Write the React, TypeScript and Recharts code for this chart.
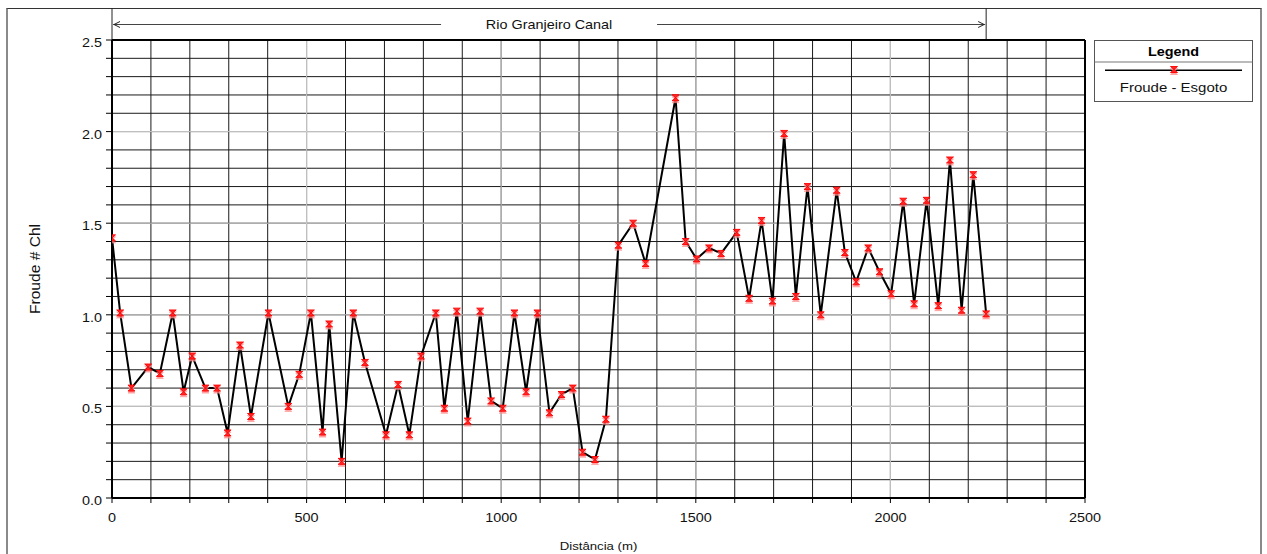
import React from 'react';
import {
  LineChart,
  Line,
  XAxis,
  YAxis,
  CartesianGrid,
  ReferenceLine,
  ReferenceArea,
  Legend,
  Label,
} from 'recharts';

// Station distance along the reach (m)
const distance = [
  0, 21, 50, 93, 123, 156, 184, 206, 240, 270,
  297, 329, 357, 402, 453, 481, 511, 541, 558, 590,
  620, 650, 704, 735, 764, 794, 832, 854, 886, 914,
  946, 974, 1004, 1034, 1064, 1093, 1124, 1155, 1184, 1209,
  1241, 1269, 1301, 1339, 1371, 1448, 1474, 1502, 1534, 1565,
  1605, 1637, 1669, 1697, 1727, 1757, 1787, 1821, 1862, 1883,
  1912, 1943, 1972, 2002, 2033, 2061, 2093, 2123, 2153, 2183,
  2213, 2246,
];

// Froude number in the main channel, "Esgoto" profile
const froudeEsgoto = [
  1.42, 1.01, 0.6, 0.715, 0.68, 1.01, 0.58, 0.775, 0.6, 0.6,
  0.355, 0.835, 0.445, 1.01, 0.5, 0.675, 1.01, 0.36, 0.95, 0.2,
  1.01, 0.74, 0.345, 0.62, 0.345, 0.775, 1.01, 0.49, 1.02, 0.42,
  1.02, 0.53, 0.49, 1.01, 0.58, 1.01, 0.465, 0.565, 0.6, 0.25,
  0.21, 0.43, 1.38, 1.5, 1.28, 2.185, 1.4, 1.305, 1.365, 1.335,
  1.45, 1.09, 1.515, 1.075, 1.99, 1.1, 1.7, 1.0, 1.68, 1.34,
  1.18, 1.365, 1.235, 1.115, 1.62, 1.06, 1.625, 1.05, 1.845, 1.025,
  1.765, 1.005,
];

// Axis ticks (every tick gets a grid line, only some get a label)
const xTicks = [
  0, 100, 200, 300, 400, 500, 600, 700, 800, 900, 1000, 1100, 1200,
  1300, 1400, 1500, 1600, 1700, 1800, 1900, 2000, 2100, 2200, 2300, 2400, 2500,
];
const yTicks = [
  0, 0.1, 0.2, 0.3, 0.4, 0.5, 0.6, 0.7, 0.8, 0.9, 1, 1.1, 1.2,
  1.3, 1.4, 1.5, 1.6, 1.7, 1.8, 1.9, 2, 2.1, 2.2, 2.3, 2.4, 2.5,
];
const xTickLabels = [0, 500, 1000, 1500, 2000, 2500];
const yTickLabels = [0, 0.5, 1, 1.5, 2, 2.5];

const reachName = 'Rio Granjeiro Canal';
const seriesName = 'Froude - Esgoto';
const legendTitle = 'Legend';
const xTitle = 'Distância (m)';
const yTitle = 'Froude # Chl';

const chartData = distance.map((d, i) => ({ dist: d, froude: froudeEsgoto[i] }));
const reachStart = distance[0];
const reachEnd = distance[distance.length - 1];

const FONT = "'Liberation Sans', Arial, Helvetica, sans-serif";
const STRETCH = 1.2;

type WideTextProps = {
  x: number;
  y: number;
  anchor?: 'start' | 'middle' | 'end';
  size?: number;
  weight?: string;
  fill?: string;
  children: React.ReactNode;
};

// Text drawn slightly wide, like the HEC-RAS plot output
function WideText({ x, y, anchor = 'middle', size = 12, weight = 'normal', fill = '#111', children }: WideTextProps) {
  return (
    <text
      transform={`translate(${x},${y}) scale(${STRETCH},1)`}
      textAnchor={anchor}
      fontSize={size}
      fontWeight={weight}
      fontFamily={FONT}
      fill={fill}
    >
      {children}
    </text>
  );
}

// Red hourglass marker with its faint pink shadow
function HourglassMark({ cx, cy }: { cx?: number; cy?: number }) {
  if (cx == null || cy == null || isNaN(cx) || isNaN(cy)) return null;
  const w = 3.5;
  const h = 3;
  const shape = (oy: number) =>
    `M${cx - w},${cy + oy - h} H${cx + w} L${cx - w},${cy + oy + h} H${cx + w} Z`;
  return (
    <g>
      <path d={shape(2)} fill="#ff8a8a" stroke="#ff8a8a" strokeWidth={0.8} opacity={0.8} />
      <path d={shape(0)} fill="#ff2a2a" stroke="#ff0000" strokeWidth={0.9} />
    </g>
  );
}

function YTick(props: any) {
  const { x, y, payload } = props;
  if (!yTickLabels.includes(payload.value)) return <g />;
  return (
    <WideText x={x} y={y + 7} anchor="end">
      {Number(payload.value).toFixed(1)}
    </WideText>
  );
}

function XTick(props: any) {
  const { x, y, payload } = props;
  if (!xTickLabels.includes(payload.value)) return <g />;
  return (
    <WideText x={x} y={y + 16.5} anchor="middle">
      {payload.value}
    </WideText>
  );
}

function XTitle(props: any) {
  const vb = props.viewBox || { x: 112, y: 498, width: 973 };
  return (
    <WideText x={vb.x + vb.width / 2} y={vb.y + 51.5} size={11}>
      {xTitle}
    </WideText>
  );
}

function YTitle(props: any) {
  const vb = props.viewBox || { x: 0, y: 40, height: 458 };
  const cx = vb.x + 35;
  const cy = vb.y + vb.height / 2;
  return (
    <text
      transform={`translate(${cx},${cy}) rotate(-90) scale(1.3,${STRETCH})`}
      textAnchor="middle"
      dy={4}
      fontSize={12}
      fontFamily={FONT}
      fill="#111"
    >
      {yTitle}
    </text>
  );
}

// Reach banner above the plot: arrows spanning the river reach with its name
function ReachBand(props: any) {
  const { x, y, width } = props;
  const left = x;
  const right = x + width;
  const top = y - 32;
  const ay = y - 15.5;
  const mid = (left + right) / 2;
  const gap = 108;
  return (
    <g>
      <line x1={left} x2={left} y1={top} y2={y} stroke="#222" strokeWidth={1} />
      <line x1={right} x2={right} y1={top} y2={y} stroke="#222" strokeWidth={1} />
      <line x1={left + 1} x2={mid - gap} y1={ay} y2={ay} stroke="#444" strokeWidth={1} />
      <line x1={mid + gap} x2={right - 1} y1={ay} y2={ay} stroke="#444" strokeWidth={1} />
      <polyline
        points={`${left + 8},${ay - 3} ${left + 2},${ay} ${left + 8},${ay + 3}`}
        fill="none"
        stroke="#222"
        strokeWidth={1}
      />
      <polyline
        points={`${right - 8},${ay - 3} ${right - 2},${ay} ${right - 8},${ay + 3}`}
        fill="none"
        stroke="#222"
        strokeWidth={1}
      />
      <WideText x={mid} y={ay + 4.5}>
        {reachName}
      </WideText>
    </g>
  );
}

function LegendBox() {
  return (
    <svg width={160} height={63} style={{ display: 'block' }}>
      <rect x={0.5} y={0.5} width={158} height={61} fill="#fff" stroke="#555" strokeWidth={1} />
      <WideText x={79.5} y={15.5} size={12} weight="bold" fill="#000">
        {legendTitle}
      </WideText>
      <line x1={0.5} x2={158.5} y1={22} y2={22} stroke="#777" strokeWidth={1} />
      <line x1={11} x2={148} y1={30.3} y2={30.3} stroke="#000" strokeWidth={1.5} />
      <HourglassMark cx={80} cy={29.5} />
      <WideText x={79.5} y={51.7} size={12.5}>
        {seriesName}
      </WideText>
    </svg>
  );
}

export default function App() {
  return (
    <div
      style={{
        position: 'absolute',
        left: 0,
        top: 0,
        width: 1267,
        height: 554,
        overflow: 'hidden',
        background: '#fff',
      }}
    >
      <div
        style={{
          position: 'absolute',
          left: 6,
          top: 8,
          width: 1256,
          height: 546,
          boxSizing: 'border-box',
          borderLeft: '2px solid #8a8a8a',
          borderRight: '2px solid #8a8a8a',
          borderTop: '1px solid #333',
        }}
      />
      <div style={{ position: 'absolute', left: 0, top: 0 }}>
        <LineChart
          width={1267}
          height={554}
          data={chartData}
          margin={{ top: 40, right: 182, bottom: 0, left: 0 }}
        >
          <CartesianGrid stroke="#1a1a1a" strokeWidth={1} />
          {[500, 1000, 1500, 2000].map((v) => (
            <ReferenceLine key={`vx${v}`} x={v} stroke="#cfcfcf" strokeWidth={1} />
          ))}
          {[0.5, 1, 1.5, 2].map((v) => (
            <ReferenceLine key={`hy${v}`} y={v} stroke="#cfcfcf" strokeWidth={1} />
          ))}
          <ReferenceLine y={2.5} stroke="#000" strokeWidth={2} />
          <ReferenceLine x={2500} stroke="#000" strokeWidth={2} />
          <ReferenceArea
            x1={reachStart}
            x2={reachEnd}
            ifOverflow="visible"
            fill="none"
            shape={(p: any) => <ReachBand {...p} />}
          />
          <XAxis
            dataKey="dist"
            type="number"
            domain={[0, 2500]}
            ticks={xTicks}
            interval={0}
            height={56}
            tickSize={5}
            tickMargin={2}
            tick={<XTick />}
            tickLine={{ stroke: '#000', strokeWidth: 1 }}
            axisLine={{ stroke: '#000', strokeWidth: 2 }}
            allowDataOverflow
          >
            <Label content={<XTitle />} />
          </XAxis>
          <YAxis
            type="number"
            domain={[0, 2.5]}
            ticks={yTicks}
            interval={0}
            width={112}
            tickSize={6}
            tickMargin={4}
            tick={<YTick />}
            tickLine={{ stroke: '#000', strokeWidth: 1 }}
            axisLine={{ stroke: '#000', strokeWidth: 2 }}
            allowDataOverflow
          >
            <Label content={<YTitle />} />
          </YAxis>
          <Legend
            layout="vertical"
            align="center"
            verticalAlign="middle"
            content={<LegendBox />}
            wrapperStyle={{ left: 1094, top: 40, width: 160, height: 63, margin: 0, padding: 0, lineHeight: 0 }}
          />
          <Line
            type="linear"
            dataKey="froude"
            name={seriesName}
            stroke="#000"
            strokeWidth={2}
            dot={<HourglassMark />}
            activeDot={false}
            isAnimationActive={false}
          />
        </LineChart>
      </div>
    </div>
  );
}
